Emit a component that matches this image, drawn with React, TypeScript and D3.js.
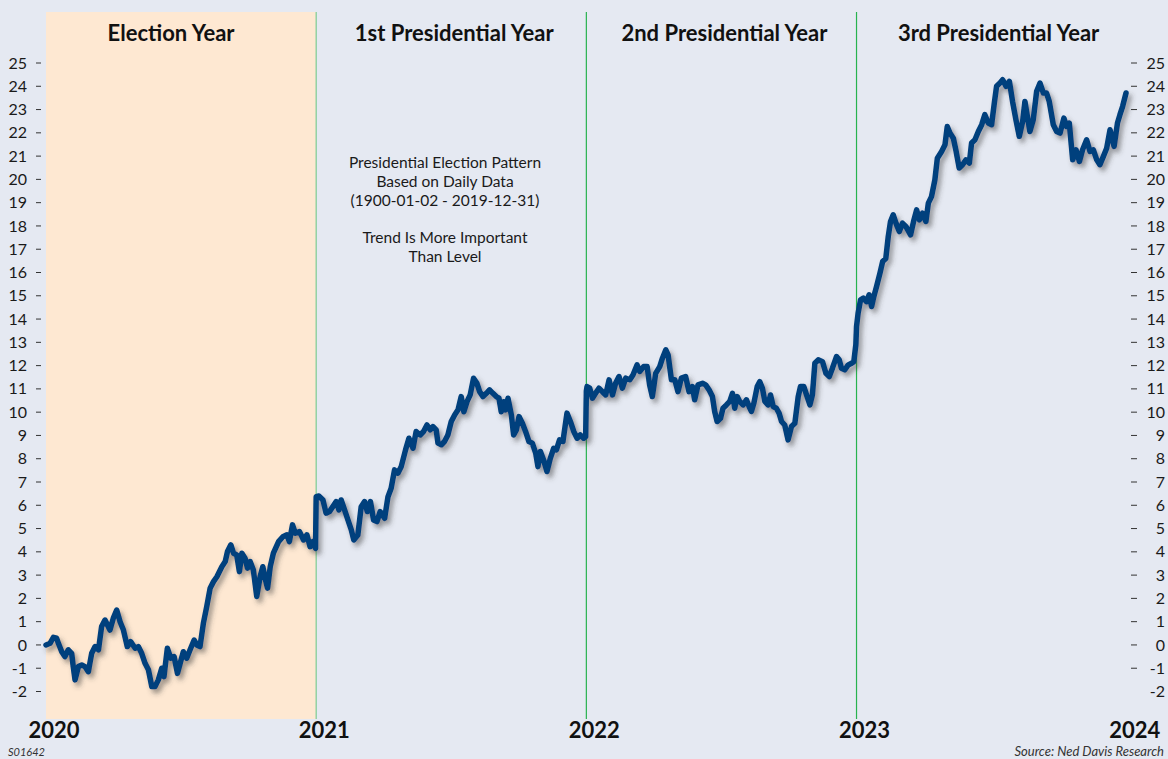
import React, { useMemo } from "react";
import * as d3 from "d3";

// [month within the cycle year, cumulative % change]
const electionYear: [number, number][] = [
  [0.0, 0.0], [0.18, 0.07], [0.33, 0.33], [0.47, 0.29], [0.55, 0.07], [0.7, -0.29], [0.84, -0.5],
  [0.99, -0.21], [1.14, -0.36], [1.21, -0.93], [1.29, -1.5], [1.44, -0.93], [1.59, -0.86], [1.73, -0.93],
  [1.88, -1.15], [2.03, -0.36], [2.18, -0.07], [2.33, -0.21], [2.47, 0.79], [2.62, 1.07], [2.84, 0.64],
  [2.99, 1.15], [3.14, 1.5], [3.29, 1.0], [3.44, 0.64], [3.61, -0.07], [3.76, 0.14], [3.96, -0.14],
  [4.1, -0.07], [4.25, -0.36], [4.4, -0.79], [4.55, -1.07], [4.7, -1.79], [4.84, -1.79], [4.99, -1.5],
  [5.14, -1.0], [5.24, -1.36], [5.39, -0.14], [5.54, -0.57], [5.69, -0.5], [5.84, -1.22], [5.96, -0.79],
  [6.1, -0.29], [6.25, -0.57], [6.4, -0.21], [6.58, 0.21], [6.7, 0.0], [6.84, -0.07], [6.99, 0.93],
  [7.14, 1.65], [7.29, 2.44], [7.44, 2.72], [7.59, 2.93], [7.81, 3.36], [7.96, 3.58], [8.06, 4.01],
  [8.21, 4.3], [8.33, 3.94], [8.47, 3.87], [8.59, 3.15], [8.7, 3.94], [8.84, 3.73], [8.95, 3.3],
  [9.07, 3.58], [9.21, 3.22], [9.36, 2.08], [9.51, 2.93], [9.63, 3.36], [9.73, 2.87], [9.84, 2.44],
  [9.96, 3.36], [10.1, 3.94], [10.33, 4.44], [10.52, 4.65], [10.7, 4.73], [10.81, 4.44], [10.95, 5.16],
  [11.07, 4.8], [11.26, 4.87], [11.44, 4.51], [11.59, 4.73], [11.73, 4.22], [11.85, 4.44], [11.97, 4.15],
];

const firstYear: [number, number][] = [
  [0.0, 6.37], [0.12, 6.4], [0.3, 6.23], [0.44, 5.66], [0.59, 5.73], [0.74, 5.94], [0.89, 6.16],
  [1.01, 5.8], [1.11, 6.23], [1.26, 5.8], [1.41, 5.37], [1.56, 4.94], [1.67, 4.51], [1.85, 4.72],
  [2.0, 5.94], [2.15, 6.16], [2.27, 5.73], [2.41, 6.16], [2.55, 5.37], [2.7, 5.3], [2.84, 5.73],
  [3.04, 5.44], [3.19, 6.37], [3.33, 6.73], [3.48, 7.52], [3.63, 7.38], [3.78, 7.67], [3.97, 8.38],
  [4.12, 8.88], [4.3, 8.45], [4.44, 9.17], [4.62, 9.02], [4.77, 9.17], [4.92, 9.45], [5.07, 9.24],
  [5.19, 9.38], [5.33, 9.24], [5.41, 8.67], [5.56, 8.6], [5.7, 8.74], [5.85, 9.02], [6.0, 9.6],
  [6.15, 9.88], [6.3, 10.1], [6.44, 10.67], [6.56, 10.02], [6.7, 10.45], [6.84, 10.74], [6.99, 11.46],
  [7.14, 11.24], [7.26, 10.88], [7.41, 10.67], [7.56, 10.81], [7.7, 10.96], [7.85, 10.81], [8.0, 10.67],
  [8.12, 10.6], [8.22, 10.02], [8.33, 10.45], [8.41, 10.1], [8.52, 10.6], [8.67, 9.88], [8.77, 9.02],
  [8.89, 9.24], [9.01, 9.81], [9.16, 9.52], [9.3, 9.17], [9.45, 8.74], [9.6, 8.67], [9.75, 8.24],
  [9.85, 7.66], [9.96, 8.31], [10.1, 7.95], [10.25, 7.45], [10.4, 8.02], [10.55, 8.45], [10.67, 8.38],
  [10.81, 8.81], [10.96, 8.74], [11.14, 9.96], [11.29, 9.6], [11.44, 9.17], [11.59, 8.88], [11.73, 9.02],
  [11.88, 8.88], [11.97, 8.95],
];

const secondYear: [number, number][] = [
  [0.0, 10.9], [0.03, 11.1], [0.15, 11.03], [0.27, 10.6], [0.41, 10.81], [0.56, 11.03], [0.71, 10.88],
  [0.86, 10.74], [1.01, 11.39], [1.16, 10.74], [1.3, 11.24], [1.45, 11.53], [1.6, 11.03], [1.75, 11.46],
  [1.93, 11.39], [2.07, 11.6], [2.25, 12.03], [2.37, 11.75], [2.55, 11.96], [2.7, 11.96], [2.81, 11.17],
  [2.93, 10.67], [3.08, 11.67], [3.26, 11.96], [3.38, 12.32], [3.53, 12.68], [3.63, 12.46], [3.78, 11.39],
  [3.93, 11.39], [4.07, 10.88], [4.22, 11.46], [4.41, 11.53], [4.56, 10.88], [4.71, 11.1], [4.81, 10.53],
  [4.96, 11.17], [5.16, 11.24], [5.3, 11.17], [5.45, 10.96], [5.6, 10.67], [5.7, 10.03], [5.81, 9.6],
  [5.96, 9.74], [6.07, 10.17], [6.22, 10.31], [6.37, 10.46], [6.49, 10.81], [6.59, 10.17], [6.7, 10.67],
  [6.81, 10.46], [6.96, 10.31], [7.11, 10.53], [7.23, 10.24], [7.33, 10.03], [7.44, 10.38], [7.59, 11.1],
  [7.7, 11.31], [7.82, 11.03], [7.93, 10.46], [8.07, 10.31], [8.18, 10.74], [8.3, 10.24], [8.44, 10.17],
  [8.56, 9.96], [8.67, 9.6], [8.81, 9.45], [8.96, 8.81], [9.11, 9.38], [9.26, 9.52], [9.41, 10.67],
  [9.51, 11.1], [9.66, 11.1], [9.78, 10.74], [9.93, 10.31], [10.04, 10.74], [10.15, 12.1], [10.3, 12.25],
  [10.49, 12.17], [10.64, 11.67], [10.79, 11.53], [10.93, 11.89], [11.11, 12.39], [11.23, 12.25],
  [11.33, 11.89], [11.48, 11.82], [11.63, 12.03], [11.78, 12.1], [11.88, 12.17], [11.97, 12.9],
];

const thirdYear: [number, number][] = [
  [0.0, 13.68], [0.07, 14.25], [0.18, 14.83], [0.3, 14.9], [0.44, 14.75], [0.56, 15.04], [0.67, 14.54],
  [0.77, 14.97], [0.89, 15.4], [1.04, 15.97], [1.16, 16.47], [1.3, 16.6], [1.41, 17.55], [1.51, 18.19],
  [1.63, 18.48], [1.75, 18.12], [1.9, 17.76], [2.04, 18.12], [2.19, 17.98], [2.4, 17.62], [2.55, 18.26],
  [2.67, 18.69], [2.79, 18.26], [2.93, 18.55], [3.08, 18.19], [3.19, 18.98], [3.33, 19.26], [3.48, 19.98],
  [3.59, 20.91], [3.78, 21.2], [3.93, 21.49], [4.03, 22.27], [4.15, 21.99], [4.3, 21.77], [4.41, 21.27],
  [4.56, 20.49], [4.71, 20.63], [4.86, 20.84], [5.01, 20.7], [5.11, 21.56], [5.26, 21.7], [5.41, 22.06],
  [5.56, 22.35], [5.7, 22.78], [5.85, 22.42], [6.0, 22.35], [6.12, 23.28], [6.22, 24.0], [6.37, 24.14],
  [6.49, 24.28], [6.64, 24.0], [6.79, 24.21], [6.93, 23.35], [7.08, 22.56], [7.23, 21.85], [7.38, 22.49],
  [7.48, 23.35], [7.59, 22.7], [7.7, 22.06], [7.85, 22.56], [8.0, 23.78], [8.15, 24.14], [8.3, 23.71],
  [8.44, 23.71], [8.56, 23.35], [8.74, 22.35], [8.89, 22.06], [9.04, 21.99], [9.21, 22.63], [9.33, 22.27],
  [9.45, 22.42], [9.6, 20.84], [9.75, 21.27], [9.9, 20.77], [10.04, 21.27], [10.22, 21.7], [10.37, 21.2],
  [10.52, 21.27], [10.67, 20.84], [10.81, 20.63], [10.96, 20.98], [11.11, 21.34], [11.26, 22.13],
  [11.44, 21.42], [11.59, 22.42], [11.7, 22.78], [11.82, 23.14], [11.97, 23.71],
];

const cycleYears = [electionYear, firstYear, secondYear, thirdYear];
const yearLabels = ["2020", "2021", "2022", "2023", "2024"];
const periodLabels = ["Election Year", "1st Presidential Year", "2nd Presidential Year", "3rd Presidential Year"];
const yTicks = d3.range(-2, 26);
const noteLines = [
  "Presidential Election Pattern",
  "Based on Daily Data",
  "(1900-01-02 - 2019-12-31)",
  "",
  "Trend Is More Important",
  "Than Level",
];

const W = 1168;
const H = 759;
const FONT = "Lato, 'Open Sans', sans-serif";

const App: React.FC = () => {
  const x = d3.scaleLinear().domain([0, 48]).range([46, 1126.7]);
  const y = d3.scaleLinear().domain([-2, 25]).range([691.5, 63]);
  const top = 12;
  const bottom = 719;

  const series = useMemo(
    () => cycleYears.flatMap((yr, i) => yr.map(([m, v]) => [i * 12 + m, v] as [number, number])),
    []
  );
  const path = d3.line<[number, number]>()
    .x((d) => x(d[0]))
    .y((d) => y(d[1]))(series) || "";

  return (
    <svg width={W} height={H} style={{ position: "absolute", left: 0, top: 0, display: "block" }} fontFamily={FONT}>
      <defs>
        <filter id="shadow" x="-5%" y="-5%" width="110%" height="115%">
          <feDropShadow dx="3" dy="4" stdDeviation="2.4" floodColor="#3a3a3a" floodOpacity="0.5" />
        </filter>
      </defs>
      <rect x={0} y={0} width={W} height={H} fill="#e5e9f2" />
      {/* election year shading */}
      <rect x={x(0)} y={top} width={x(12) - x(0)} height={bottom - top} fill="#fee8d2" />

      {/* year dividers */}
      {[12, 24, 36].map((m, i) => (
        <line key={m} x1={x(m)} x2={x(m)} y1={top} y2={bottom}
          stroke={i === 0 ? "#7ccb93" : "#27b34f"} strokeWidth={1.2} />
      ))}

      {/* period headers */}
      {periodLabels.map((lab, i) => (
        <text key={lab} x={(x(i * 12) + x(i * 12 + 12)) / 2 + (i === 0 ? -10 : i === 3 ? 7 : 3)} y={41}
          textAnchor="middle" fontSize={22} fontWeight={700} fill="#111">{lab}</text>
      ))}

      {/* y axis left and right */}
      {yTicks.map((t) => (
        <g key={t}>
          <text x={27} y={y(t)} dy="0.35em" textAnchor="end" fontSize={16} fill="#1a1a1a">{t}</text>
          <line x1={36} x2={41} y1={y(t)} y2={y(t)} stroke="#333" strokeWidth={1} />
          {t > -2 && <line x1={1131} x2={1137} y1={y(t)} y2={y(t)} stroke="#333" strokeWidth={1} />}
          <text x={1165} y={y(t)} dy="0.35em" textAnchor="end" fontSize={16} fill="#1a1a1a">{t}</text>
        </g>
      ))}

      {/* x labels */}
      {yearLabels.map((lab, i) => (
        <text key={lab} x={x(i * 12) + 8} y={738} textAnchor="middle" fontSize={22} fontWeight={700} fill="#111">{lab}</text>
      ))}

      {/* annotation */}
      {noteLines.map((l, i) => (
        l ? <text key={i} x={445} y={168 + i * 18.8} textAnchor="middle" fontSize={15.5} fill="#1a1a1a">{l}</text> : null
      ))}

      {/* pattern line */}
      <path d={path} fill="none" stroke="#003f7d" strokeWidth={5.5} strokeLinejoin="round" strokeLinecap="round" filter="url(#shadow)" />

      <text x={8} y={756} fontSize={11} fontStyle="italic" fill="#333">S01642</text>
      <text x={1164} y={756} textAnchor="end" fontSize={13} fontStyle="italic" fill="#333">Source: Ned Davis Research</text>
    </svg>
  );
};

export default App;
